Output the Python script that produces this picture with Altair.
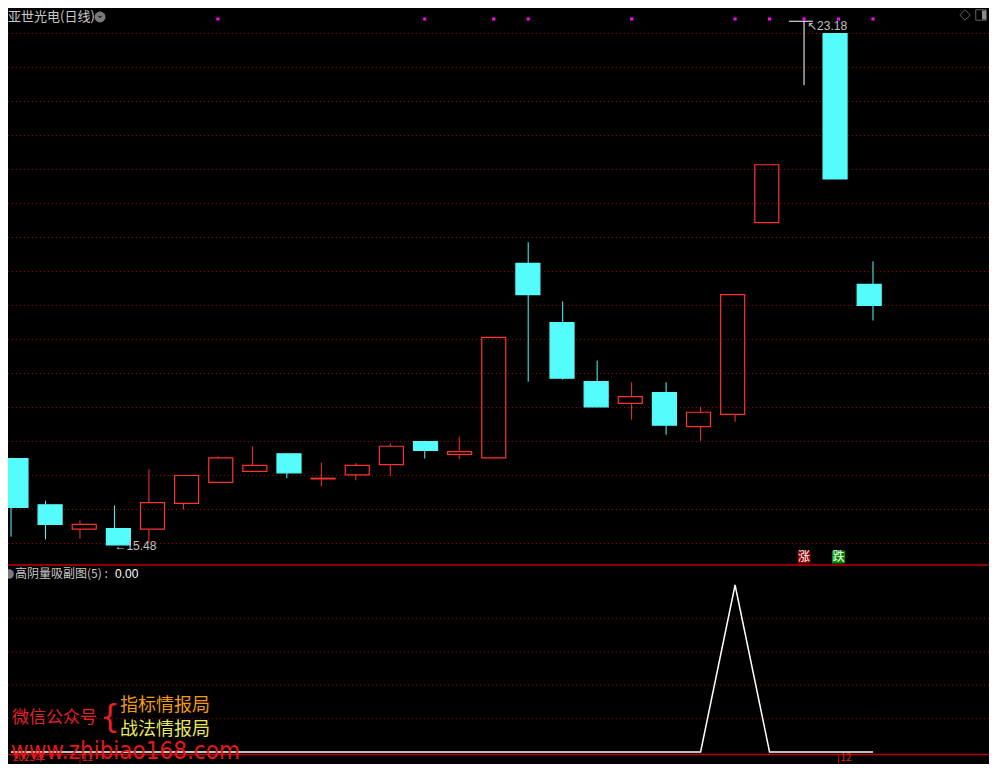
import altair as alt
import pandas as pd

# ---------------- data ----------------
idx = list(range(1, 27))
open_ = [16.75, 16.07, 15.71, 15.72, 15.71, 16.09, 16.40, 16.56, 16.82, 16.45,
         16.51, 16.66, 17.00, 16.81, 16.76, 19.62, 18.75, 17.88, 17.56, 17.72,
         17.22, 17.40, 20.22, 23.18, 23.00, 19.31]
close_ = [16.03, 15.78, 15.78, 15.48, 16.10, 16.50, 16.76, 16.65, 16.54, 16.46,
          16.65, 16.93, 16.87, 16.85, 18.53, 19.16, 17.93, 17.51, 17.66, 17.24,
          17.43, 19.16, 21.07, 23.18, 20.86, 19.00]
high_ = [16.75, 16.13, 15.84, 16.06, 16.59, 16.51, 16.78, 16.93, 16.82, 16.69,
         16.68, 16.97, 17.01, 17.07, 18.53, 19.93, 19.06, 18.19, 17.87, 17.87,
         17.51, 19.16, 21.07, 23.18, 23.00, 19.65]
low_ = [15.60, 15.56, 15.57, 15.48, 15.51, 16.00, 16.40, 16.56, 16.46, 16.34,
        16.43, 16.49, 16.75, 16.74, 16.76, 17.88, 17.91, 17.51, 17.32, 17.10,
        17.01, 17.29, 20.22, 22.24, 20.86, 18.78]
signal = [0, 0, 0, 0, 0, 0, 1, 0, 0, 0, 0, 0, 1, 0, 1, 1, 0, 0, 1, 0, 0, 1, 1, 1, 1, 1]
limit_flag = ["", "", "", "", "", "", "", "", "", "", "", "", "", "", "", "", "",
              "", "", "", "", "", "", "涨", "跌", ""]
indicator = [0, 0, 0, 0, 0, 0, 0, 0, 0, 0, 0, 0, 0, 0, 0, 0, 0, 0, 0, 0, 0, 5, 0, 0, 0, 0]
axis_label = ["2023年", "", "11", "", "", "", "", "", "", "", "", "", "", "", "",
              "", "", "", "", "", "", "", "", "", "12", ""]
price_grid = [15.5, 16.0, 16.5, 17.0, 17.5, 18.0, 18.5, 19.0, 19.5, 20.0,
              20.5, 21.0, 21.5, 22.0, 22.5, 23.0]
ind_grid = [1, 2, 3, 4]

# ---------------- tables ----------------
df = pd.DataFrame({"i": idx, "open": open_, "close": close_, "high": high_,
                   "low": low_, "sig": signal, "lim": limit_flag,
                   "ind": indicator, "lab": axis_label})
df["top"] = df[["open", "close"]].max(axis=1)
df["bot"] = df[["open", "close"]].min(axis=1)
df["kind"] = ["up" if c > o else ("down" if c < o else "flat")
              for o, c in zip(df["open"], df["close"])]

hi_row = df.loc[df["high"].idxmax()]
lo_row = df.loc[df["low"].idxmin()]
hi_df = pd.DataFrame({"i": [hi_row["i"]], "p": [hi_row["high"]],
                      "t": ["↖" + f"{hi_row['high']:.2f}"]})
lo_df = pd.DataFrame({"i": [lo_row["i"]], "p": [lo_row["low"]],
                      "t": ["←" + f"{lo_row['low']:.2f}"]})

W, H = 981, 756
CYAN = "#54FCFC"
RED = "#FF3232"
GRID = "#A00000"

XS = alt.Scale(domain=[0.91299, 29.3643], nice=False, zero=False)
PY = alt.Scale(domain=[12.2574, 23.3750], nice=False, zero=False)
IY = alt.Scale(domain=[-0.3593, 22.2754], nice=False, zero=False)

X = alt.X("i:Q", scale=XS, axis=None)
KD = ["up", "down", "flat"]
kind_stroke = alt.Color("kind:N", scale=alt.Scale(domain=KD, range=[RED, CYAN, "#FFFFFF"]), legend=None)
kind_fill = alt.Fill("kind:N", scale=alt.Scale(domain=KD, range=["rgba(0,0,0,0)", CYAN, "rgba(0,0,0,0)"]), legend=None)
kind_strk = alt.Stroke("kind:N", scale=alt.Scale(domain=KD, range=[RED, CYAN, "#FFFFFF"]), legend=None)

one = pd.DataFrame({"a": [0]})
base = alt.Chart(df)

# grids
pgrid = alt.Chart(pd.DataFrame({"level": price_grid})).mark_rule(
    color=GRID, strokeDash=[1, 3], strokeWidth=1).encode(
    y=alt.Y("level:Q", scale=PY, axis=None))
igrid = alt.Chart(pd.DataFrame({"level": ind_grid})).mark_rule(
    color=GRID, strokeDash=[1, 3], strokeWidth=1).encode(
    y=alt.Y("level:Q", scale=IY, axis=None))

sep = alt.Chart(one).mark_rule(color="#C00000", strokeWidth=1.5).encode(
    x=alt.value(0), x2=alt.value(W), y=alt.value(557))
axis_line = alt.Chart(one).mark_rule(color="#C00000", strokeWidth=1.5).encode(
    x=alt.value(0), x2=alt.value(W), y=alt.value(746.5))

# candles
wick_up = base.mark_rule(strokeWidth=1).encode(
    x=X, y=alt.Y("top:Q", scale=PY, axis=None), y2="high:Q", color=kind_stroke)
wick_dn = base.mark_rule(strokeWidth=1).encode(
    x=X, y=alt.Y("low:Q", scale=PY, axis=None), y2="bot:Q", color=kind_stroke)
bodies = base.mark_bar(size=24, strokeWidth=1.2).encode(
    x=X, y=alt.Y("open:Q", scale=PY, axis=None), y2="close:Q",
    fill=kind_fill, stroke=kind_strk)

# signal dots
dots = base.transform_filter("datum.sig == 1").mark_square(
    size=10, color="#FF00FF", opacity=1).encode(x=X, y=alt.value(11))

# extreme labels
hi_text = alt.Chart(hi_df).mark_text(
    align="left", baseline="middle", fontSize=12, color="#C0C0C0", dx=3, dy=5,
    font="Liberation Sans, DejaVu Sans").encode(
    x=alt.X("i:Q", scale=XS, axis=None), y=alt.Y("p:Q", scale=PY, axis=None), text="t:N")
lo_text = alt.Chart(lo_df).mark_text(
    align="left", baseline="middle", fontSize=12, color="#C0C0C0", dx=0, dy=1,
    font="Liberation Sans, DejaVu Sans").encode(
    x=alt.X("i:Q", scale=XS, axis=None), y=alt.Y("p:Q", scale=PY, axis=None), text="t:N")

# limit up / down tags
lim_bg = base.transform_filter("datum.lim != ''").mark_square(size=169, opacity=1).encode(
    x=X, y=alt.value(549),
    color=alt.Color("lim:N", scale=alt.Scale(domain=["涨", "跌"], range=["#8B0000", "#008A00"]),
                    legend=None))
lim_tx = base.transform_filter("datum.lim != ''").mark_text(
    fontSize=12, color="#FFFFFF", font="Noto Sans CJK SC", baseline="middle").encode(
    x=X, y=alt.value(549), text="lim:N")

# indicator
ind_line = base.mark_line(color="#FFFFFF", strokeWidth=1.5).encode(
    x=X, y=alt.Y("ind:Q", scale=IY, axis=None))

# bottom axis labels
ticks = base.transform_filter("datum.lab == '11' || datum.lab == '12'").mark_rule(
    color="#C00000", strokeWidth=1).encode(x=X, y=alt.value(747), y2=alt.value(756))
ax_text = base.transform_filter("datum.lab != ''").mark_text(
    align="left", baseline="alphabetic", fontSize=10, color="#E02020",
    font="Noto Sans CJK SC", dx=2).encode(x=X, y=alt.value(753), text="lab:N")


# header texts and icons
def txt(s, x, y, size, color, font="Noto Sans CJK SC", align="left", weight="normal"):
    return alt.Chart(one).mark_text(
        text=s, align=align, baseline="middle", fontSize=size, color=color,
        font=font, fontWeight=weight).encode(x=alt.value(x), y=alt.value(y))


title = txt("亚世光电(日线)", 0, 9, 13, "#C8C8C8")
icon1 = alt.Chart(one).mark_circle(size=120, color="#7A7A7A", opacity=1).encode(
    x=alt.value(92), y=alt.value(9))
icon1v = txt("⌄", 92, 7, 10, "#1A1A1A", font="DejaVu Sans", align="center", weight="bold")
diamond = alt.Chart(one).mark_point(shape="diamond", size=110, filled=False,
                                    color="#8A8A8A", strokeWidth=1).encode(
    x=alt.value(957), y=alt.value(7))
sq = alt.Chart(one).mark_square(size=110, filled=False, color="#8A8A8A", strokeWidth=1).encode(
    x=alt.value(973), y=alt.value(7))
sq_fill = alt.Chart(one).mark_rect(color="#8A8A8A").encode(
    x=alt.value(974), x2=alt.value(978), y=alt.value(2.5), y2=alt.value(11.5))

icon2 = alt.Chart(one).mark_circle(size=95, color="#7A7A7A", opacity=1).encode(
    x=alt.value(1), y=alt.value(566))
sub_title = txt("高阴量吸副图(5) :", 7, 566, 12, "#C8C8C8")
sub_val = txt("0.00", 107, 566, 12, "#FFFFFF", font="Liberation Sans")

wm1 = txt("微信公众号", 4, 710, 17, "#E5202A")
brace = txt("{", 102, 709, 32, "#E5202A", font="DejaVu Sans", align="center")
wm2 = txt("指标情报局", 112, 698, 18, "#F09A10")
wm3 = txt("战法情报局", 112, 722, 18, "#E8E860")
wm4 = alt.Chart(one).mark_text(
    text="www.zhibiao168.com", align="left", baseline="alphabetic", fontSize=24,
    color="#E01818", font="Liberation Sans Narrow, DejaVu Sans Condensed, sans-serif").encode(
    x=alt.value(3), y=alt.value(751))

chart = alt.layer(
    pgrid, igrid, sep, axis_line,
    wick_up, wick_dn, bodies, dots, hi_text, lo_text, lim_bg, lim_tx,
    ind_line, ticks, ax_text,
    title, icon1, icon1v, diamond, sq, sq_fill, icon2, sub_title, sub_val,
    wm1, brace, wm2, wm3, wm4,
).resolve_scale(x="independent", y="independent", color="independent",
                fill="independent", stroke="independent").properties(
    width=W, height=H,
    autosize=alt.AutoSizeParams(type="none"),
    padding=0,
    background="#000000",
).configure_view(stroke=None)

chart.save("out.html", embed_options={"renderer": "svg", "actions": False})
